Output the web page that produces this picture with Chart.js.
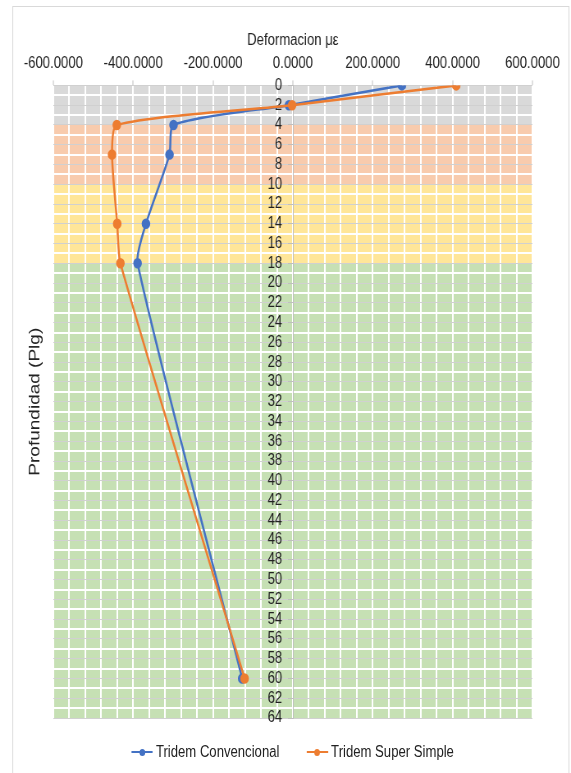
<!DOCTYPE html>
<html>
<head>
<meta charset="utf-8">
<script src="https://cdn.jsdelivr.net/npm/chart.js@4.4.1/dist/chart.umd.min.js"></script>
<style>
  html, body { margin: 0; padding: 0; background: #fff; overflow: hidden; }
  /* the source chart is a narrowed screenshot: draw wide, squeeze to 571px */
  #wrap { position: relative; width: 696px; height: 773px; transform: scaleX(0.8204); transform-origin: 0 0; }
  #frame { position: absolute; left: 15px; top: 6px; width: 677px; height: 900px; border: 1px solid #d9d9d9; }
  #chart { position: absolute; left: 0; top: 0; }
  #legend { position: absolute; left: 160px; top: 742px; display: flex; gap: 33px; color: #222;
            font: 16px 'Liberation Sans', Arial, sans-serif; line-height: 20px; }
  .item { display: flex; align-items: center; white-space: nowrap; }
  .mk { position: relative; display: inline-block; width: 26px; height: 2px; margin-right: 4px; }
  .mk::after { content: ''; position: absolute; left: 9.5px; top: -2.5px; width: 7px; height: 7px; border-radius: 50%; background: inherit; }
</style>
</head>
<body>
<div id="wrap">
  <div id="frame"></div>
  <canvas id="chart" width="696" height="773"></canvas>
  <div id="legend"></div>
</div>
<script>
// Depth (in) and strain readings per series
const depths = [0, 2, 4, 7, 14, 18, 60];
const convencional = [273, -10, -299, -309, -368, -389, -127];
const superSimple = [409, -2, -441, -453, -440, -432, -121];
const seriesNames = ['Tridem Convencional', 'Tridem Super Simple'];

// axis labels
const xTicks = [-600, -400, -200, 0, 200, 400, 600];
const yTicks = [0, 2, 4, 6, 8, 10, 12, 14, 16, 18, 20, 22, 24, 26, 28, 30, 32,
                34, 36, 38, 40, 42, 44, 46, 48, 50, 52, 54, 56, 58, 60, 62, 64];
const xTitle = 'Deformacion με';
const yTitle = 'Profundidad (Plg)';

// soil layer bands (depth limits)
const bandLimits = [0, 4, 10, 18, 64];
const bandColors = ['#d9d9d9', '#f8cbad', '#ffe699', '#c6e0b4'];

const seriesColors = ['#4472C4', '#ED7D31'];
const TEXT = '#222';

Chart.defaults.font.family = "'Liberation Sans', Arial, sans-serif";
Chart.defaults.font.size = 16;
Chart.defaults.color = TEXT;

const bandsPlugin = {
    id: 'bands',
    beforeDraw(chart) {
        const { ctx, chartArea: a, scales: { y } } = chart;
        ctx.save();
        for (let i = 0; i < bandColors.length; i++) {
            const top = y.getPixelForValue(bandLimits[i]);
            const bottom = y.getPixelForValue(bandLimits[i + 1]);
            ctx.fillStyle = bandColors[i];
            ctx.fillRect(a.left, top, a.right - a.left, bottom - top);
        }
        ctx.restore();
    }
};

// axis sitting at x = 0 puts its labels right on the line; push them left of the tick marks
const labelGapPlugin = {
    id: 'labelGap',
    beforeDraw(chart) {
        const y = chart.scales.y;
        const items = y.getLabelItems(chart.chartArea);
        if (items._shifted) return;
        items.forEach(it => { it.options.translation[0] -= 13; });
        items._shifted = true;
    }
};

// rotated y title on the left edge
const yTitlePlugin = {
    id: 'yTitle',
    afterDraw(chart) {
        const { ctx, chartArea: a } = chart;
        ctx.save();
        ctx.translate(43, (a.top + a.bottom) / 2);
        ctx.rotate(-Math.PI / 2);
        ctx.font = "19px 'Liberation Sans', Arial, sans-serif";
        ctx.fillStyle = TEXT;
        ctx.textAlign = 'center';
        ctx.textBaseline = 'middle';
        ctx.fillText(yTitle, 0, 0);
        ctx.restore();
    }
};

function makeSeries(values, i) {
    return {
        label: seriesNames[i],
        data: depths.map((d, k) => ({ x: values[k], y: d })),
        borderColor: seriesColors[i],
        backgroundColor: seriesColors[i],
        borderWidth: 2.5,
        pointRadius: 4,
        pointHoverRadius: 4,
        showLine: true,
        tension: 0.22,
        order: 1 - i
    };
}

const isEven = c => c.tick && c.tick.value % 2 === 0;

new Chart(document.getElementById('chart'), {
    type: 'scatter',
    data: {
        datasets: [makeSeries(convencional, 0), makeSeries(superSimple, 1)]
    },
    options: {
        responsive: false,
        animation: false,
        layout: { padding: { left: 65, right: 47, top: 25, bottom: 55 } },
        plugins: {
            legend: { display: false },
            tooltip: { enabled: false }
        },
        scales: {
            x: {
                type: 'linear',
                position: 'top',
                min: -600,
                max: 600,
                title: { display: true, text: xTitle, padding: { top: 6, bottom: -3 }, color: TEXT },
                ticks: {
                    stepSize: 40,
                    autoSkip: false,
                    maxRotation: 0,
                    padding: 7,
                    callback: v => xTicks.includes(Math.round(v)) ? Number(v).toFixed(4) : ''
                },
                grid: {
                    color: '#ffffff',
                    lineWidth: 2,
                    tickLength: 5,
                    tickWidth: 1,
                    tickColor: c => (c.tick && xTicks.includes(Math.round(c.tick.value))) ? '#bfbfbf' : 'rgba(0,0,0,0)'
                },
                border: { display: false }
            },
            y: {
                type: 'linear',
                position: { x: 0 },
                reverse: true,
                min: 0,
                max: 64,
                ticks: {
                    stepSize: 1,
                    autoSkip: false,
                    callback: v => yTicks.includes(Math.round(v)) ? String(v) : ''
                },
                grid: {
                    color: c => isEven(c) ? '#d0d0d0' : '#ffffff',
                    lineWidth: c => isEven(c) ? 1 : 2,
                    tickLength: 6,
                    tickWidth: 1,
                    tickColor: c => isEven(c) ? '#bfbfbf' : 'rgba(0,0,0,0)'
                },
                border: { display: true, color: '#bfbfbf', width: 1 }
            }
        }
    },
    plugins: [bandsPlugin, labelGapPlugin, yTitlePlugin]
});

// legend
const legend = document.getElementById('legend');
seriesNames.forEach((name, i) => {
    const item = document.createElement('span');
    item.className = 'item';
    const mk = document.createElement('span');
    mk.className = 'mk';
    mk.style.background = seriesColors[i];
    item.appendChild(mk);
    item.appendChild(document.createTextNode(name));
    legend.appendChild(item);
});
</script>
</body>
</html>
